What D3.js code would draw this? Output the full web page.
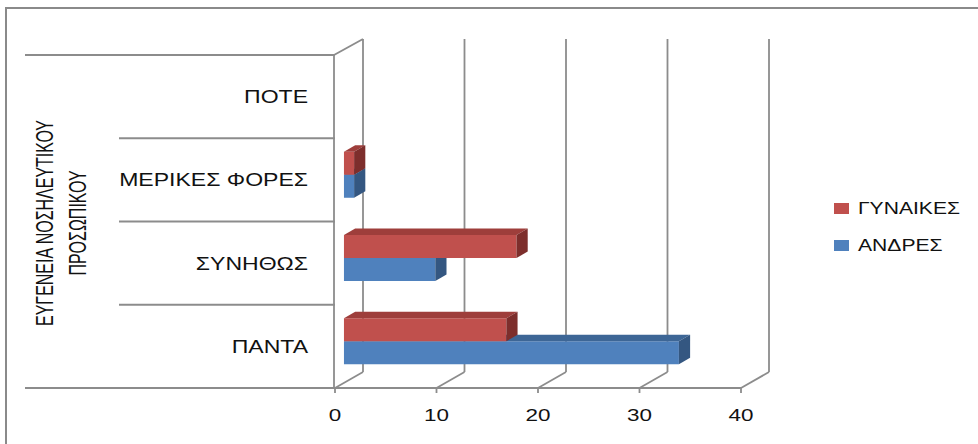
<!DOCTYPE html>
<html>
<head>
<meta charset="utf-8">
<script src="https://cdn.jsdelivr.net/npm/d3@7"></script>
<style>
  html, body { margin: 0; padding: 0; background: #fff; }
  svg { display: block; }
  text { font-family: "Liberation Sans", Arial, sans-serif; fill: #111; }
</style>
</head>
<body>
<svg id="chart" width="978" height="444"></svg>
<script>
// Categories from bottom to top of the chart
const categories = ["ΠΑΝΤΑ", "ΣΥΝΗΘΩΣ", "ΜΕΡΙΚΕΣ ΦΟΡΕΣ", "ΠΟΤΕ"];
const seriesNames = ["ΓΥΝΑΙΚΕΣ", "ΑΝΔΡΕΣ"];
const women = [16, 17, 1, 0];
const men = [33, 9, 1, 0];
const xTicks = [0, 10, 20, 30, 40];
const axisTitle = ["ΕΥΓΕΝΕΙΑ ΝΟΣΗΛΕΥΤΙΚΟΥ", "ΠΡΟΣΩΠΙΚΟΥ"];

const svg = d3.select("#chart");

// Layout of the pseudo-3D box
const floorY = 388, wallTop = 55;
const DX = 28, DY = -16;          // depth offset of the back wall
const barF = 0.32, barB = 0.72;   // front/back depth of bars as fraction of box depth
const gridColor = "#8c8c8c";

const x = d3.scaleLinear().domain([0, 40]).range([335, 741]);
const y = d3.scaleBand().domain(categories).range([floorY, wallTop]);
const ySub = d3.scaleBand().domain(seriesNames).range([0, y.bandwidth()]).paddingOuter(0.81);

const colors = {
  "ΓΥΝΑΙΚΕΣ": { front: "#C0504D", top: "#9E3E3B", side: "#7D2E2C" },
  "ΑΝΔΡΕΣ":   { front: "#4F81BD", top: "#3D6696", side: "#345781" }
};

// Outer frame
svg.append("path")
  .attr("d", "M6,450 V8 H978")
  .attr("fill", "none").attr("stroke", "#8a8a8a").attr("stroke-width", 2);

const grid = svg.append("g").attr("stroke", gridColor).attr("stroke-width", 1.8).attr("fill", "none");

// Back wall gridlines
grid.selectAll("line.back").data(xTicks).join("line")
  .attr("x1", d => x(d) + DX).attr("x2", d => x(d) + DX)
  .attr("y1", wallTop + DY).attr("y2", floorY + DY);

// Floor diagonals
grid.selectAll("line.floor").data(xTicks).join("line")
  .attr("x1", d => x(d)).attr("y1", floorY)
  .attr("x2", d => x(d) + DX).attr("y2", floorY + DY);

// Tick marks
grid.selectAll("line.tick").data(xTicks).join("line")
  .attr("x1", d => x(d)).attr("x2", d => x(d))
  .attr("y1", floorY).attr("y2", floorY + 5);

// Side wall front edge and top edge
grid.append("line").attr("x1", x(0) - 1).attr("x2", x(0) - 1).attr("y1", wallTop).attr("y2", floorY);
grid.append("line").attr("x1", x(0) - 1).attr("y1", wallTop).attr("x2", x(0) + DX).attr("y2", wallTop + DY);

// Floor front line and category dividers
grid.append("line").attr("x1", 25).attr("x2", x(40)).attr("y1", floorY).attr("y2", floorY);
grid.append("line").attr("x1", 25).attr("x2", x(0)).attr("y1", wallTop).attr("y2", wallTop);
grid.selectAll("line.div").data(categories.slice(1)).join("line")
  .attr("x1", 119).attr("x2", x(0))
  .attr("y1", d => y(d) + y.bandwidth()).attr("y2", d => y(d) + y.bandwidth());

// Bars, drawn lower series first so the upper bar covers its top face
const bars = [];
categories.forEach((c, i) => {
  bars.push({ cat: c, series: "ΑΝΔΡΕΣ", value: men[i] });
  bars.push({ cat: c, series: "ΓΥΝΑΙΚΕΣ", value: women[i] });
});

const fx = DX * barF, fy = DY * barF;
const dx = DX * (barB - barF), dy = DY * (barB - barF);

const barG = svg.append("g");
bars.filter(b => b.value > 0).forEach(b => {
  const x0 = x(0) + fx, x1 = x(b.value) + fx;
  const yT = y(b.cat) + ySub(b.series) + fy;
  const yB = yT + ySub.bandwidth();
  const col = colors[b.series];
  const g = barG.append("g");
  g.append("rect").attr("x", x0).attr("y", yT).attr("width", x1 - x0).attr("height", yB - yT)
    .attr("fill", col.front);
  g.append("path").attr("d", `M${x0},${yT}L${x1},${yT}L${x1 + dx},${yT + dy}L${x0 + dx},${yT + dy}Z`)
    .attr("fill", col.top);
  g.append("path").attr("d", `M${x1},${yT}L${x1 + dx},${yT + dy}L${x1 + dx},${yB + dy}L${x1},${yB}Z`)
    .attr("fill", col.side);
});

// Helper: horizontally stretched text
function label(parent, tx, ty, str, size, anchor, stretch, rotate) {
  const g = parent.append("g").attr("transform", `translate(${tx},${ty}) scale(${stretch},1)`);
  const t = g.append("text").text(str)
    .attr("font-size", size).attr("text-anchor", anchor).attr("dominant-baseline", "central");
  if (rotate) t.attr("transform", `rotate(${rotate})`);
  return t;
}

// Category labels
categories.forEach(c => label(svg, 308, y(c) + y.bandwidth() / 2, c, 18, "end", 1.28));

// X tick labels
xTicks.forEach(t => label(svg, x(t), 415, t, 17, "middle", 1.32));

// Axis title (two rotated lines)
axisTitle.forEach((s, i) => label(svg, 45 + i * 33, 223, s, 16, "middle", 1.5, -90));

// Legend
seriesNames.forEach((s, i) => {
  const ly = 208.5 + i * 37;
  svg.append("rect").attr("x", 834).attr("y", ly - 5.5).attr("width", 15).attr("height", 11)
    .attr("fill", colors[s].front);
  label(svg, 858, ly, s, 16, "start", 1.32);
});
</script>
</body>
</html>
